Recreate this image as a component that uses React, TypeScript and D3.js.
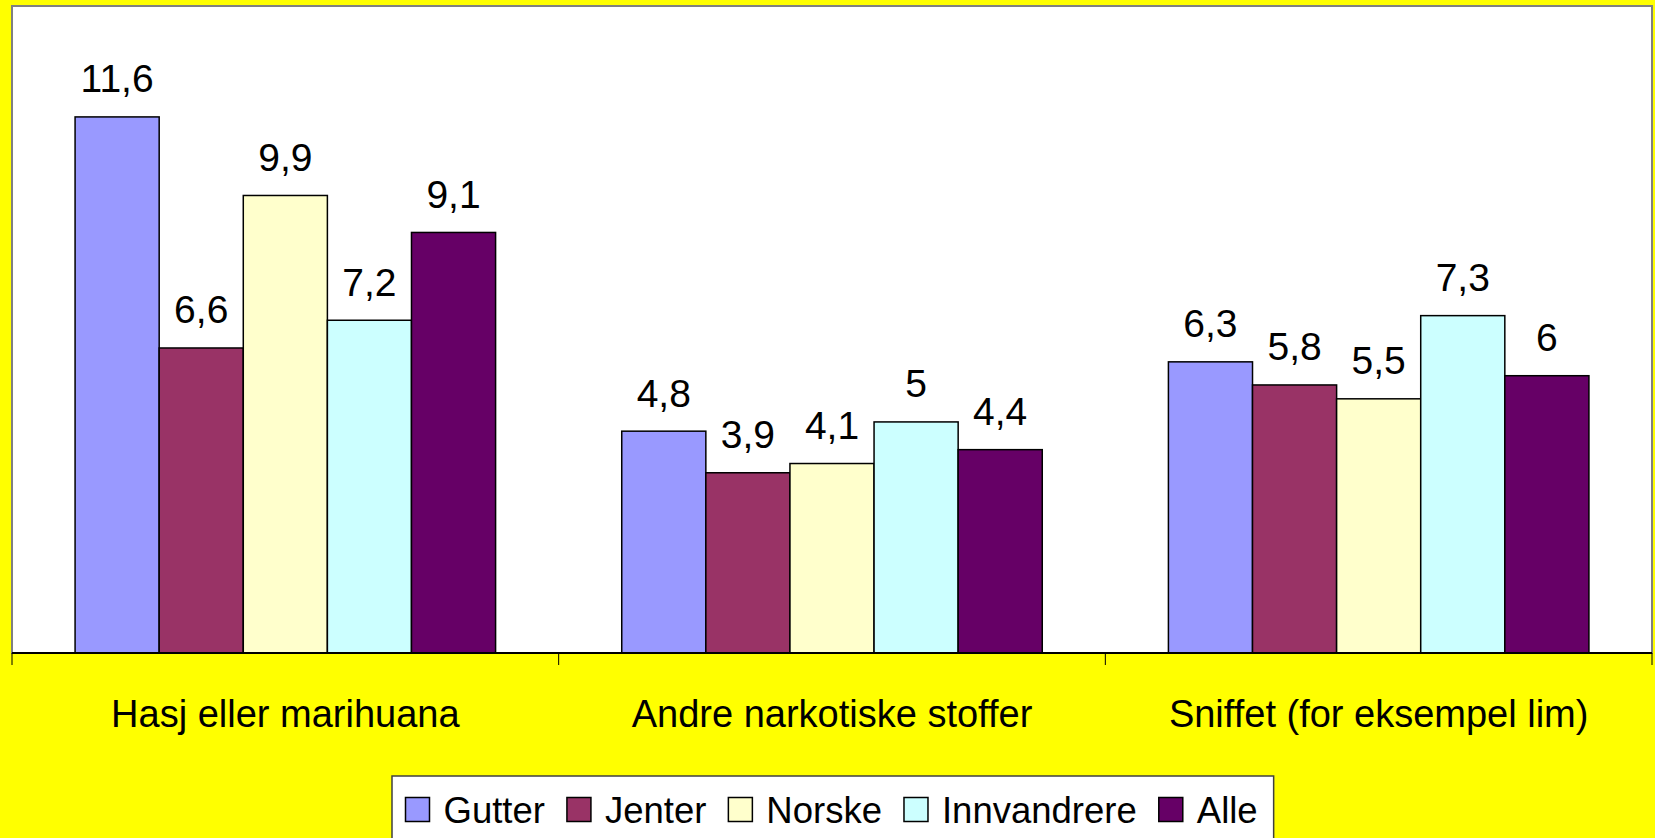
import * as d3 from 'd3';

const categories = ['Hasj eller marihuana', 'Andre narkotiske stoffer', 'Sniffet (for eksempel lim)'];
const seriesNames = ['Gutter', 'Jenter', 'Norske', 'Innvandrere', 'Alle'];
const seriesColors = ['#9999ff', '#993366', '#ffffcc', '#ccffff', '#660066'];
const gutter = [11.6, 4.8, 6.3];
const jenter = [6.6, 3.9, 5.8];
const norske = [9.9, 4.1, 5.5];
const innvandrere = [7.2, 5, 7.3];
const alle = [9.1, 4.4, 6];
const seriesValues = [gutter, jenter, norske, innvandrere, alle];
const yDomain = [0, 14];

const W = 1655;
const H = 838;
const FONT = '"Liberation Sans", Arial, sans-serif';
const plot = { left: 12, right: 1652, top: 6, bottom: 653 };

const fmt = (v: number) => String(v).replace('.', ',');

// measure legend labels so items sit side by side like the original
const measure = (() => {
  let ctx: CanvasRenderingContext2D | null = null;
  return (text: string, size: number) => {
    if (!ctx) ctx = document.createElement('canvas').getContext('2d');
    if (!ctx) return text.length * size * 0.5;
    ctx.font = `${size}px ${FONT}`;
    return ctx.measureText(text).width;
  };
})();

export default function App() {
  const x0 = d3.scaleBand<string>().domain(categories).range([plot.left, plot.right]).padding(0);
  // Excel style gap width 150%: outer padding of 0.75 bar on each side
  const x1 = d3.scaleBand<string>().domain(seriesNames).range([0, x0.bandwidth()]).paddingInner(0).paddingOuter(0.75);
  const y = d3.scaleLinear().domain(yDomain).range([plot.bottom, plot.top]);

  const tickXs = [...categories.map(c => x0(c) as number), plot.right];

  // ── Legend layout ──
  const legendSize = 36.5;
  const sw = 24;
  let cursor = 405.5;
  const legendItems = seriesNames.map((name, i) => {
    const item = { name, color: seriesColors[i], x: cursor };
    cursor += sw + 14 + measure(name, legendSize) + 22;
    return item;
  });
  const legendLeft = 392;
  const legendRight = cursor - 22 + 16;

  return (
    <svg width={W} height={H} style={{ position: 'absolute', left: 0, top: 0 }} fontFamily={FONT}>
      <rect x={0} y={0} width={W} height={H} fill="#ffff00" />
      <rect x={plot.left} y={plot.top} width={plot.right - plot.left} height={plot.bottom - plot.top} fill="#ffffff" stroke="#808080" strokeWidth={2} />

      {categories.map((cat, ci) => (
        <g key={cat} transform={`translate(${x0(cat)},0)`}>
          {seriesNames.map((s, si) => {
            const v = seriesValues[si][ci];
            const bx = x1(s) as number;
            return (
              <g key={s}>
                <rect x={bx} y={y(v)} width={x1.bandwidth()} height={y(0) - y(v)} fill={seriesColors[si]} stroke="#000" strokeWidth={1.5} />
                <text x={bx + x1.bandwidth() / 2} y={y(v) - 24.5} textAnchor="middle" fontSize={39} fill="#000">
                  {fmt(v)}
                </text>
              </g>
            );
          })}
        </g>
      ))}

      {/* x axis */}
      <line x1={plot.left} x2={plot.right} y1={plot.bottom} y2={plot.bottom} stroke="#000" strokeWidth={2} />
      {tickXs.map((tx, i) => (
        <line key={i} x1={tx} x2={tx} y1={plot.bottom} y2={plot.bottom + 12} stroke="#000" strokeWidth={1} />
      ))}
      {categories.map(cat => (
        <text key={cat} x={(x0(cat) as number) + x0.bandwidth() / 2} y={726.5} textAnchor="middle" fontSize={38} fill="#000">
          {cat}
        </text>
      ))}

      {/* legend */}
      <rect x={legendLeft} y={776} width={legendRight - legendLeft} height={80} fill="#ffffff" stroke="#404040" strokeWidth={1.5} />
      {legendItems.map(it => (
        <g key={it.name}>
          <rect x={it.x} y={797.5} width={sw} height={sw} fill={it.color} stroke="#000" strokeWidth={1.5} />
          <text x={it.x + sw + 14} y={822.5} fontSize={legendSize} fill="#000">
            {it.name}
          </text>
        </g>
      ))}
    </svg>
  );
}
